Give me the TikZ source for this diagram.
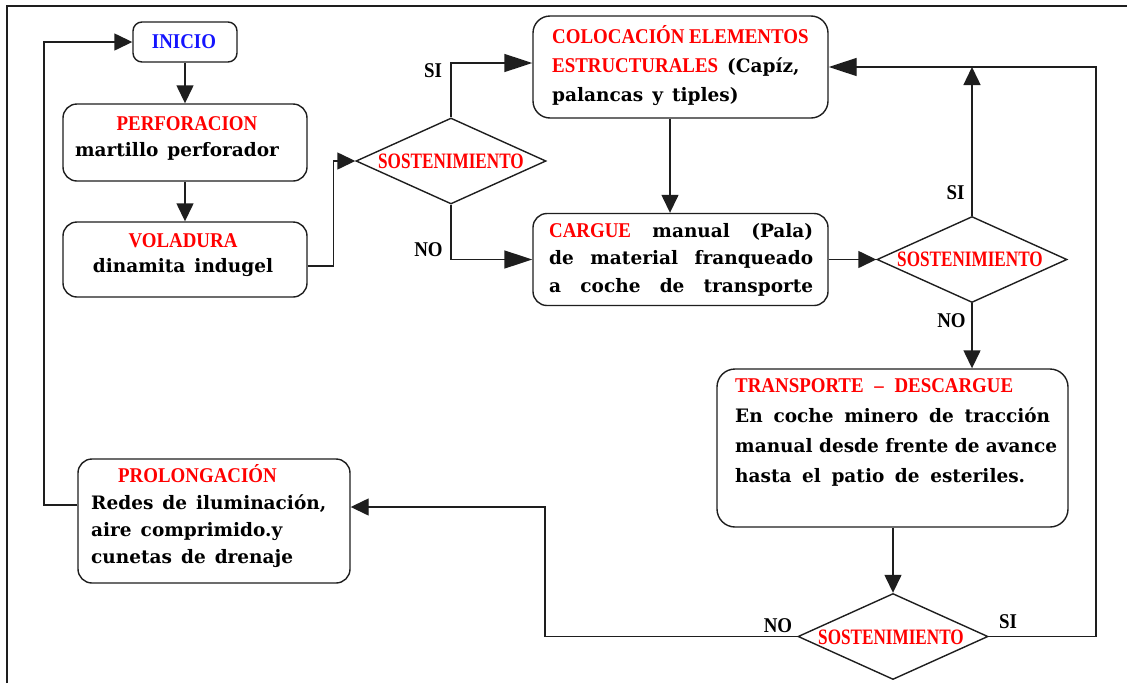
\documentclass[tikz,border=0pt]{standalone}
\usepackage{fontspec}
\usetikzlibrary{shapes.geometric,arrows.meta}
\newfontfamily\headf{Liberation Serif}[FakeStretch=0.9]
\newfontfamily\diaf{Liberation Serif}[FakeStretch=0.78]
\newfontfamily\bodyf{DejaVu Serif}[WordSpace=1.4]
\definecolor{hred}{RGB}{255,0,0}
\definecolor{hblue}{RGB}{20,20,255}
\definecolor{lncol}{RGB}{30,30,30}
\newcommand\redh[1]{{\headf\bfseries\fontsize{21}{21}\selectfont\color{hred}#1}}
\begin{document}
\begin{tikzpicture}[x=1pt,y=-1pt,
  box/.style={draw=lncol, line width=1.4pt, rounded corners=14pt, inner sep=0pt},
  dia/.style={draw=lncol, line width=1.4pt, diamond, inner sep=0pt, minimum width=190pt, minimum height=86pt},
  dtxt/.style={inner sep=0pt, font=\diaf\bfseries\fontsize{22}{22}\selectfont, text=hred},
  lbl/.style={inner sep=0pt, font=\headf\bfseries\fontsize{21}{21}\selectfont},
  txt/.style={inner sep=0pt, align=left, anchor=west},
  conn/.style={draw=lncol, line width=1.4pt},
  arr/.style={conn, -{Triangle[length=18pt,width=17pt]}},
  arrL/.style={conn, -{Triangle[length=28pt,width=18pt]}}]
\fill[white] (0,0) rectangle (1127,683);
\useasboundingbox (0,0) rectangle (1127,683);
\draw[line width=2pt, lncol] (7,683) -- (7,6) -- (1127,6);

% boxes
\node[box, rounded corners=9pt, minimum width=104pt, minimum height=40pt] (inicio) at (185,42) {};
\node[inner sep=0pt, font=\headf\bfseries\fontsize{21}{21}\selectfont, text=hblue] (inicioT) at (184,42) {INICIO};

\node[box, minimum width=244pt, minimum height=77pt] (perf) at (185,142.5) {};
\node[inner sep=0pt, align=center, font=\bodyf\bfseries\fontsize{18.5}{26}\selectfont] (perfT) at (177,138) {\hspace*{20pt}\redh{PERFORACION}\\martillo perforador};

\node[box, minimum width=244pt, minimum height=75pt] (vol) at (185,259.5) {};
\node[inner sep=0pt, align=center, font=\bodyf\bfseries\fontsize{18.5}{25}\selectfont] (volT) at (183,255.5) {\redh{VOLADURA}\\dinamita indugel};

\node[dia] (d1) at (451,161) {};
\node[dtxt] (d1T) at (451,161) {SOSTENIMIENTO};

\node[box, rounded corners=17pt, minimum width=295pt, minimum height=102pt] (col) at (680.5,67) {};
\node[txt, font=\bodyf\bfseries\fontsize{18.5}{29}\selectfont] (colT) at (552,66) {\redh{COLOCACIÓN ELEMENTOS}\\\redh{ESTRUCTURALES} (Capíz,\\palancas y tiples)};

\node[box, minimum width=295pt, minimum height=92pt] (car) at (680.5,259.5) {};
\node[txt, font=\bodyf\bfseries\fontsize{18.5}{27.5}\selectfont] (carT) at (549,259.5) {\makebox[264pt][s]{\redh{CARGUE} manual (Pala)}\\\makebox[264pt][s]{de material franqueado}\\\makebox[264pt][s]{a coche de transporte}};

\node[dia] (d2) at (972,259.5) {};
\node[dtxt] (d2T) at (970,259.5) {SOSTENIMIENTO};

\node[box, rounded corners=18pt, minimum width=351pt, minimum height=158pt] (tra) at (892.5,448) {};
\node[txt, font=\bodyf\bfseries\fontsize{18.5}{30}\selectfont] (traT) at (735,432) {\makebox[278pt][s]{\redh{TRANSPORTE – DESCARGUE}}\\\makebox[315pt][s]{En coche minero de tracción}\\\makebox[322pt][s]{manual desde frente de avance}\\\makebox[290pt][s]{hasta el patio de esteriles.}};

\node[dia] (d3) at (893,636.5) {};
\node[dtxt] (d3T) at (891,637) {SOSTENIMIENTO};

\node[box, minimum width=272pt, minimum height=124pt] (pro) at (214,521) {};
\node[txt, font=\bodyf\bfseries\fontsize{18.5}{27}\selectfont] (proT) at (91,516) {\hspace*{27pt}\redh{PROLONGACIÓN}\\Redes de iluminación,\\aire comprimido.y\\cunetas de drenaje};

% helper coordinates
\coordinate (rtop) at (1096,67);
\coordinate (nob) at (545,507);
\coordinate (lft) at (44,505);

% connectors
\draw[arr] (inicio.south) -- (perf.north);
\draw[arr] (perf.south) -- (vol.north);
\draw[arr] ([yshift=-6.5pt]vol.east) -| ([xshift=-22pt]d1.west) -- (d1.west);
\draw[arrL] (d1.north) |- ([yshift=4pt]col.west);
\draw[arrL] (d1.south) |- (car.west);
\draw[arr] ([xshift=-10.5pt]col.south) -- ([xshift=-10.5pt]car.north);
\draw[arr] (car.east) -- (d2.west);
\draw[arr] (d2.north) -- (d2.north |- rtop);
\draw[arrL] (d3.east) -| (rtop) -- (col.east);
\draw[arr] (d2.south) -- (d2.south |- tra.north);
\draw[arr] (tra.south -| d3.north) -- (d3.north);
\draw[arr] (d3.west) -| (nob) -- (nob -| pro.east);
\draw[arr] (lft -| pro.west) -- (lft) |- (inicio.west);

% labels
\node[lbl] (si1) at (433,71) {SI};
\node[lbl] (no1) at (428.5,249.5) {NO};
\node[lbl] (si2) at (955.5,192.5) {SI};
\node[lbl] (no2) at (951.5,320.5) {NO};
\node[lbl] (no3) at (778,625.5) {NO};
\node[lbl] (si3) at (1008,622) {SI};
\end{tikzpicture}
\end{document}
